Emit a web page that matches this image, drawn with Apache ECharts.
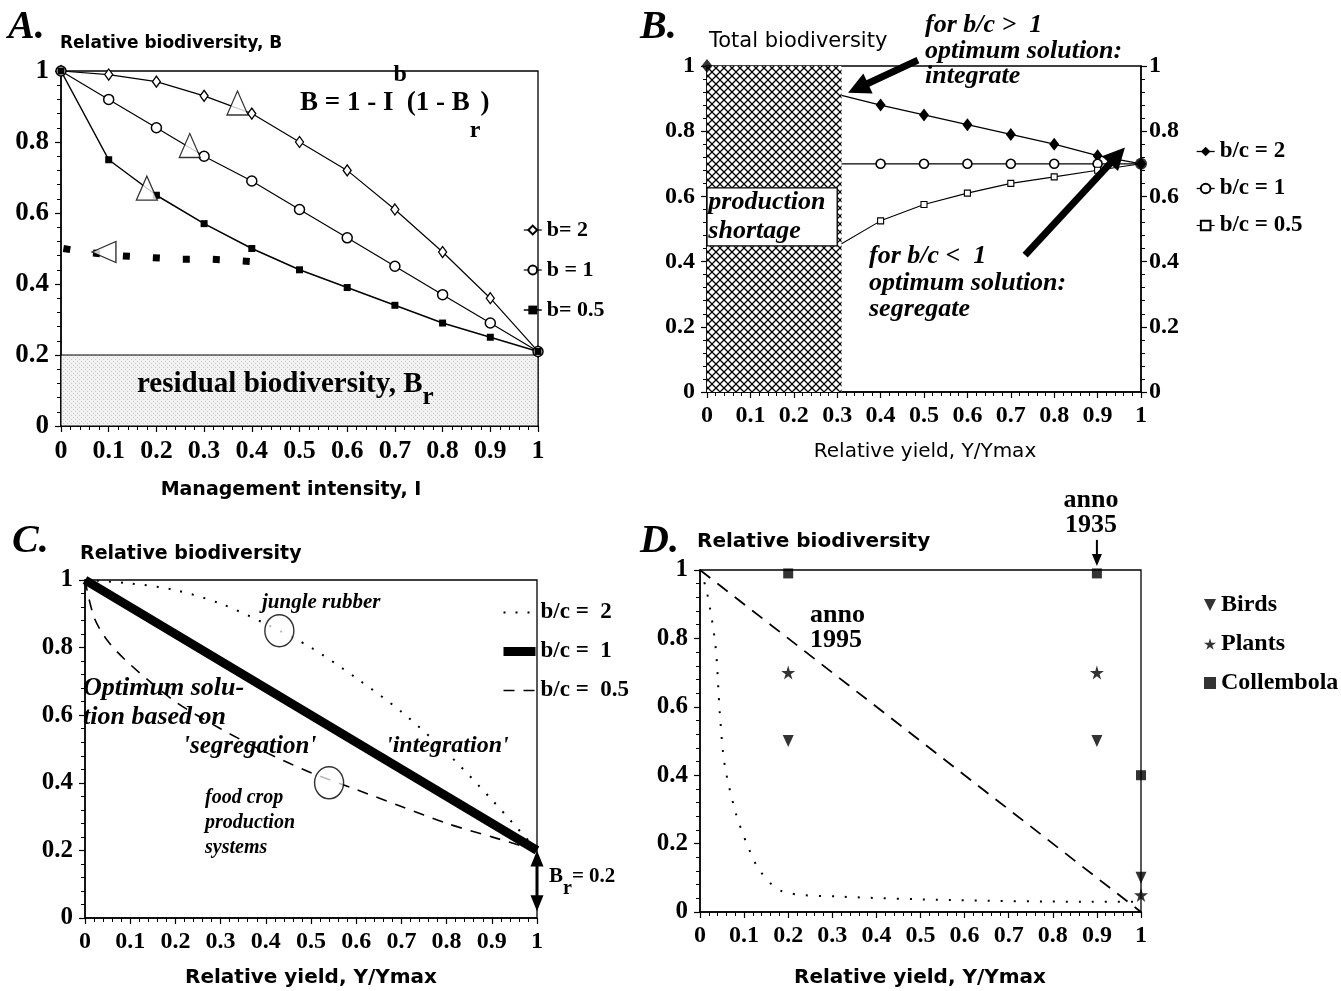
<!DOCTYPE html>
<html><head><meta charset="utf-8">
<script src="https://cdn.jsdelivr.net/npm/echarts@6/dist/echarts.min.js"></script>
<style>html,body{margin:0;padding:0;background:#fff}#c{width:1341px;height:991px}</style>
</head><body><div id="c"></div>
<script>
// ---------- DATA ----------
// Panel A: relative biodiversity vs management intensity
const aX = [0, 0.1, 0.2, 0.3, 0.4, 0.5, 0.6, 0.7, 0.8, 0.9, 1];
const aB2 = [1, 0.99, 0.97, 0.93, 0.88, 0.80, 0.72, 0.61, 0.49, 0.36, 0.21];
const aB1 = [1, 0.92, 0.84, 0.76, 0.69, 0.61, 0.53, 0.45, 0.37, 0.29, 0.21];
const aB05 = [1, 0.75, 0.65, 0.57, 0.50, 0.44, 0.39, 0.34, 0.29, 0.25, 0.21];
const aDotX = [0.005, 0.05, 0.12, 0.18, 0.25, 0.31, 0.38, 0.44];
const aDotY = [0.50, 0.49, 0.48, 0.475, 0.47, 0.47, 0.465, 0.46];
const aTriX = [0.37, 0.27, 0.18, 0.09];
const aTriY = [0.91, 0.79, 0.67, 0.49];
const aTriRot = [0, 0, 0, 90];
const aResidual = 0.2;

// Panel B: total biodiversity vs relative yield
const bX = [0.31, 0.4, 0.5, 0.6, 0.7, 0.8, 0.9, 1];
const bBc2 = [0.91, 0.88, 0.85, 0.82, 0.79, 0.76, 0.725, 0.70];
const bBc1 = [0.70, 0.70, 0.70, 0.70, 0.70, 0.70, 0.70, 0.70];
const bBc05 = [0.455, 0.525, 0.575, 0.61, 0.64, 0.66, 0.68, 0.70];
const bStart = [0, 1];
const bEnd = [1, 0.70];
const bShortageX = 0.31;
const bBoxY = [0.448, 0.626];
const bBoxX = 0.30;

// Panel C: concepts
const cX2 = [0, 0.1, 0.2, 0.3, 0.4, 0.5, 0.6, 0.7, 0.8, 0.9, 1];
const cBc2 = [1, 0.99, 0.97, 0.93, 0.87, 0.80, 0.71, 0.61, 0.49, 0.35, 0.2];
const cX1 = [0, 1];
const cBc1 = [1, 0.2];
const cX05 = [0, 0.02, 0.05, 0.1, 0.2, 0.3, 0.4, 0.5, 0.6, 0.7, 0.8, 0.9, 1];
const cBc05 = [1, 0.89, 0.82, 0.75, 0.64, 0.56, 0.49, 0.43, 0.38, 0.33, 0.28, 0.24, 0.2];
const cCircX = [0.43, 0.54];
const cCircY = [0.85, 0.40];

// Panel D: observations
const dDotX = [0, 0.015, 0.035, 0.045, 0.056, 0.081, 0.106, 0.136, 0.187, 0.32, 0.57, 0.87, 1];
const dDotY = [1, 0.94, 0.78, 0.58, 0.43, 0.29, 0.2, 0.12, 0.06, 0.045, 0.035, 0.03, 0.03];
const dDashX = [0, 1];
const dDashY = [1, 0];
const dX = [0.2, 0.9, 1];
const dBirds = [0.5, 0.5, 0.1];
const dPlants = [0.7, 0.7, 0.05];
const dColl = [0.99, 0.99, 0.4];

const zip = (xs, ys) => xs.map((x, i) => [x, ys[i]]);

// ---------- STYLE HELPERS ----------
const SERIF = '"Liberation Serif", "DejaVu Serif", serif';
const SANS = '"DejaVu Sans", "Liberation Sans", sans-serif';
const fmt = v => String(Math.round(v * 10) / 10);

function hatch() {
  const c = document.createElement('canvas'); c.width = 8; c.height = 8;
  const g = c.getContext('2d');
  g.fillStyle = '#fff'; g.fillRect(0, 0, 8, 8);
  g.strokeStyle = '#000'; g.lineWidth = 1.3;
  g.beginPath(); g.moveTo(-1, -1); g.lineTo(9, 9); g.moveTo(-1, 9); g.lineTo(9, -1); g.stroke();
  return c;
}
function speckle() {
  const c = document.createElement('canvas'); c.width = 4; c.height = 4;
  const g = c.getContext('2d');
  g.fillStyle = '#f2f2f2'; g.fillRect(0, 0, 4, 4);
  g.fillStyle = '#c8c8c8'; g.fillRect(1, 1, 1, 1); g.fillRect(3, 3, 1, 1);
  return c;
}

function xAx(gi, fs) {
  return {
    type: 'value', gridIndex: gi, min: 0, max: 1, interval: 0.1,
    axisLine: { lineStyle: { color: '#000', width: 1.5 } },
    axisTick: { show: true, length: 6, lineStyle: { color: '#000', width: 1.2 } },
    minorTick: { show: true, splitNumber: 5, length: 4, lineStyle: { color: '#000' } },
    axisLabel: { color: '#000', fontFamily: SERIF, fontWeight: 'bold', fontSize: fs, margin: 12, formatter: fmt },
    splitLine: { show: false }
  };
}
function yAx(gi, fs, pos) {
  return {
    type: 'value', gridIndex: gi, min: 0, max: 1, interval: 0.2, position: pos || 'left',
    axisLine: { show: true, lineStyle: { color: '#000', width: 1.5 } },
    axisTick: { show: true, length: 6, lineStyle: { color: '#000', width: 1.2 } },
    minorTick: { show: true, splitNumber: 5, length: 4, lineStyle: { color: '#000' } },
    axisLabel: { color: '#000', fontFamily: SERIF, fontWeight: 'bold', fontSize: fs, margin: pos === 'right' ? 8 : 12, formatter: fmt },
    splitLine: { show: false }
  };
}
const gridBox = { show: true, borderColor: '#000', borderWidth: 1.3, backgroundColor: 'transparent' };
const legText = (s, w) => ({ fontFamily: SERIF, fontWeight: w || 'bold', fontSize: s, color: '#000' });

function txt(x, y, text, font) {
  return { type: 'text', x: x, y: y, z: 100, style: { text: text, font: font, fill: '#000' } };
}
function ctxt(x, y, text, font) {
  return { type: 'text', x: x, y: y, z: 100, style: { text: text, font: font, fill: '#000', align: 'center', textAlign: 'center' } };
}
const BI = (s) => 'italic bold ' + s + 'px ' + SERIF;
const BS = (s) => 'bold ' + s + 'px ' + SANS;
const BSer = (s) => 'bold ' + s + 'px ' + SERIF;
const DOWN_TRI = 'path://M0,0 L10,0 L5,10 Z';
const STAR = 'path://M50,0 L61,35 L98,35 L68,57 L79,91 L50,70 L21,91 L32,57 L2,35 L39,35 Z';

const chart = echarts.init(document.getElementById('c'), null, { renderer: 'canvas' });

const option = {
  animation: false,
  backgroundColor: '#fff',
  grid: [
    Object.assign({ left: 61, top: 71, width: 477, height: 355 }, gridBox),
    Object.assign({ left: 707, top: 66, width: 434, height: 326 }, gridBox),
    Object.assign({ left: 85, top: 580, width: 452, height: 338 }, gridBox),
    Object.assign({ left: 700, top: 570, width: 441, height: 342 }, gridBox)
  ],
  xAxis: [xAx(0, 26), xAx(1, 24), xAx(2, 24), xAx(3, 24)],
  yAxis: [yAx(0, 27), yAx(1, 24), yAx(1, 24, 'right'), yAx(2, 25), yAx(3, 25)],
  legend: [
    { data: ['b= 2', 'b = 1', 'b= 0.5'], orient: 'vertical', left: 523, top: 219, padding: 0, itemGap: 18, itemWidth: 18, itemHeight: 11,
      textStyle: legText(22), selectedMode: false, lineStyle: { width: 'inherit' } },
    { data: ['b/c = 2', 'b/c = 1', 'b/c = 0.5'], orient: 'vertical', left: 1196, top: 140, padding: 0, itemGap: 14, itemWidth: 18, itemHeight: 12,
      textStyle: legText(23), selectedMode: false, lineStyle: { width: 'inherit' } },
    { data: ['C:b/c =  2', 'C:b/c =  1', 'C:b/c =  0.5'], orient: 'vertical', left: 499, top: 601, padding: 0, itemGap: 16, itemWidth: 32, itemHeight: 20,
      textStyle: legText(23), selectedMode: false, lineStyle: { width: 'inherit' }, formatter: n => n.replace('C:', '') },
    { data: ['Birds', 'Plants', 'Collembola'], orient: 'vertical', left: 1204, top: 593, padding: 0, itemGap: 15, itemWidth: 12, itemHeight: 12,
      textStyle: legText(24), selectedMode: false }
  ],
  series: [
    // ---- A ----
    { name: 'b= 2', type: 'line', xAxisIndex: 0, yAxisIndex: 0, data: zip(aX, aB2), symbol: 'diamond', symbolSize: [8, 11],
      lineStyle: { color: '#000', width: 1.2 }, itemStyle: { color: '#fff', borderColor: '#000', borderWidth: 1.3 },
      markArea: { silent: true, itemStyle: { color: { image: speckle(), repeat: 'repeat' }, borderColor: '#000', borderWidth: 1 },
        data: [[{ coord: [0, 0] }, { coord: [1, aResidual] }]] } },
    { name: 'b = 1', type: 'line', xAxisIndex: 0, yAxisIndex: 0, data: zip(aX, aB1), symbol: 'circle', symbolSize: 10,
      lineStyle: { color: '#000', width: 1.2 }, itemStyle: { color: '#fff', borderColor: '#000', borderWidth: 1.5 } },
    { name: 'b= 0.5', type: 'line', xAxisIndex: 0, yAxisIndex: 0, data: zip(aX, aB05), symbol: 'rect', symbolSize: 7,
      lineStyle: { color: '#000', width: 1.5 }, itemStyle: { color: '#000' } },
    { name: 'A dotted', type: 'line', xAxisIndex: 0, yAxisIndex: 0, data: zip(aDotX, aDotY), symbol: 'none',
      lineStyle: { color: '#000', width: 7, type: [7, 23], cap: 'butt' } },
    { name: 'A tri', type: 'scatter', xAxisIndex: 0, yAxisIndex: 0, symbol: 'triangle', symbolSize: [21, 24],
      data: aTriX.map((x, i) => ({ value: [x, aTriY[i]], symbolRotate: aTriRot[i] })),
      itemStyle: { color: '#fff', borderColor: '#000', borderWidth: 1.3 }, z: 5 },
    // ---- B ----
    { name: 'b/c = 2', type: 'line', xAxisIndex: 1, yAxisIndex: 1,
      data: zip(bX, bBc2).map((p, i) => i === 0 ? { value: p, symbol: 'none' } : p),
      symbol: 'diamond', symbolSize: [10, 13], lineStyle: { color: '#000', width: 1.3 }, itemStyle: { color: '#000' },
      markArea: { silent: true, data: [
        [{ coord: [0, 0], itemStyle: { color: { image: hatch(), repeat: 'repeat' }, borderWidth: 0 } }, { coord: [bShortageX, 1] }],
        [{ coord: [0, bBoxY[0]], itemStyle: { color: '#fff', borderColor: '#000', borderWidth: 1.3 },
           label: { show: true, position: 'insideLeft', formatter: 'production\nshortage', fontFamily: SERIF, fontStyle: 'italic', fontWeight: 'bold', fontSize: 26, lineHeight: 29, color: '#000', distance: 2 } },
         { coord: [bBoxX, bBoxY[1]] }]
      ] } },
    { name: 'b/c = 1', type: 'line', xAxisIndex: 1, yAxisIndex: 1,
      data: zip(bX, bBc1).map((p, i) => (i === 0 || i === bX.length - 1) ? { value: p, symbol: 'none' } : p),
      symbol: 'circle', symbolSize: 9, lineStyle: { color: '#000', width: 1.3 }, itemStyle: { color: '#fff', borderColor: '#000', borderWidth: 1.6 } },
    { name: 'b/c = 0.5', type: 'line', xAxisIndex: 1, yAxisIndex: 1,
      data: zip(bX, bBc05).map((p, i) => (i === 0 || i === bX.length - 1) ? { value: p, symbol: 'none' } : p),
      symbol: 'rect', symbolSize: 6, lineStyle: { color: '#000', width: 1.1 }, itemStyle: { color: '#fff', borderColor: '#000', borderWidth: 1.1 } },
    { name: 'B start', type: 'scatter', xAxisIndex: 1, yAxisIndex: 1, data: [bStart], symbol: 'diamond', symbolSize: [11, 14], itemStyle: { color: '#000' }, z: 5 },
    { name: 'B end', type: 'scatter', xAxisIndex: 1, yAxisIndex: 1, data: [bEnd], symbol: 'circle', symbolSize: 12, itemStyle: { color: '#000' }, z: 5 },
    // ---- C ----
    { name: 'C:b/c =  2', type: 'line', xAxisIndex: 2, yAxisIndex: 3, data: zip(cX2, cBc2), symbol: 'none', smooth: 0.3,
      lineStyle: { color: '#000', width: 2, type: [2, 10] }, itemStyle: { color: '#000', opacity: 0 } },
    { name: 'C:b/c =  1', type: 'line', xAxisIndex: 2, yAxisIndex: 3, data: zip(cX1, cBc1), symbol: 'none',
      lineStyle: { color: '#000', width: 9 }, itemStyle: { color: '#000', opacity: 0 } },
    { name: 'C:b/c =  0.5', type: 'line', xAxisIndex: 2, yAxisIndex: 3, data: zip(cX05, cBc05), symbol: 'none', smooth: 0.3,
      lineStyle: { color: '#000', width: 1.6, type: [11, 9] }, itemStyle: { color: '#000', opacity: 0 } },
    { name: 'C circles', type: 'scatter', xAxisIndex: 2, yAxisIndex: 3, data: zip(cCircX, cCircY), symbol: 'circle', symbolSize: [29, 32],
      itemStyle: { color: 'rgba(255,255,255,0.9)', borderColor: '#000', borderWidth: 1.5 }, z: 6 },
    // ---- D ----
    { name: 'D dotted', type: 'line', xAxisIndex: 3, yAxisIndex: 4, data: zip(dDotX, dDotY), symbol: 'none', smooth: 0.3,
      lineStyle: { color: '#000', width: 2, type: [2, 11] } },
    { name: 'D dashed', type: 'line', xAxisIndex: 3, yAxisIndex: 4, data: zip(dDashX, dDashY), symbol: 'none',
      lineStyle: { color: '#000', width: 1.8, type: [13, 9] } },
    { name: 'Birds', type: 'scatter', xAxisIndex: 3, yAxisIndex: 4, data: zip(dX, dBirds), symbol: DOWN_TRI, symbolSize: [11, 12], itemStyle: { color: '#000' }, z: 6 },
    { name: 'Plants', type: 'scatter', xAxisIndex: 3, yAxisIndex: 4, data: zip(dX, dPlants), symbol: STAR, symbolSize: 14, itemStyle: { color: '#000' }, z: 6 },
    { name: 'Collembola', type: 'scatter', xAxisIndex: 3, yAxisIndex: 4, data: zip(dX, dColl), symbol: 'rect', symbolSize: 10, itemStyle: { color: '#000' }, z: 6 }
  ],
  graphic: [
    // A
    txt(8, 8, 'A.', BI(40)),
    txt(60, 35, 'Relative biodiversity, B', BS(17)),
    { type: 'text', x: 300, y: 63, z: 100, style: { text: '{m|B = 1 - I}{s|b}{m|(1 - B}{r|r}{m|)}', fill: '#000',
      rich: { m: { font: BSer(27), lineHeight: 80, fill: '#000' }, s: { font: BSer(24), lineHeight: 16, verticalAlign: 'top', fill: '#000' }, r: { font: BSer(24), lineHeight: 30, verticalAlign: 'bottom', fill: '#000' } } } },
    { type: 'text', x: 137, y: 360, z: 100, style: { text: '{m|residual biodiversity, B}{r|r}', fill: '#000',
      rich: { m: { font: BSer(29), lineHeight: 50, fill: '#000' }, r: { font: BSer(25), lineHeight: 20, verticalAlign: 'bottom', fill: '#000' } } } },
    ctxt(291, 481, 'Management intensity, I', BS(19)),
    // B
    txt(640, 8, 'B.', BI(40)),
    txt(709, 31, 'Total biodiversity', '21px ' + SANS),
    txt(925, 12, 'for b/c >  1', BI(26)),
    txt(925, 38, 'optimum solution:', BI(26)),
    txt(925, 63, 'integrate', BI(26)),
    txt(869, 243, 'for b/c <  1', BI(26)),
    txt(869, 270, 'optimum solution:', BI(26)),
    txt(869, 296, 'segregate', BI(26)),
    ctxt(925, 442, 'Relative yield, Y/Ymax', '20px ' + SANS),
    // C
    txt(12, 522, 'C.', BI(40)),
    txt(80, 545, 'Relative biodiversity', BS(19)),
    txt(262, 592, 'jungle rubber', BI(21)),
    txt(83, 675, 'Optimum solu-', BI(26)),
    txt(83, 704, 'tion based on', BI(26)),
    txt(183, 734, "'segregation'", BI(25)),
    txt(386, 734, "'integration'", BI(24)),
    txt(205, 788, 'food crop', BI(20)),
    txt(205, 813, 'production', BI(20)),
    txt(205, 838, 'systems', BI(20)),
    { type: 'text', x: 549, y: 855, z: 100, style: { text: '{m|B}{r|r}{m|= 0.2}', fill: '#000',
      rich: { m: { font: BSer(21), lineHeight: 44, fill: '#000' }, r: { font: BSer(20), lineHeight: 18, verticalAlign: 'bottom', fill: '#000' } } } },
    ctxt(311, 968, 'Relative yield, Y/Ymax', BS(20)),
    // D
    txt(640, 522, 'D.', BI(40)),
    txt(697, 532, 'Relative biodiversity', BS(20)),
    ctxt(1091, 487, 'anno', BSer(26)),
    ctxt(1091, 512, '1935', BSer(26)),
    txt(810, 602, 'anno', BSer(26)),
    txt(810, 627, '1995', BSer(26)),
    ctxt(920, 968, 'Relative yield, Y/Ymax', BS(20))
  ]
};
chart.setOption(option);

// ---------- annotation arrows (defined in data space, converted to pixels) ----------
const arrows = [
  { grid: 1, from: [0.486, 1.018], to: [0.325, 0.918], w: 7, hl: 22, hw: 22, both: false },
  { grid: 1, from: [0.733, 0.42], to: [0.963, 0.75], w: 7, hl: 22, hw: 22, both: false },
  { grid: 2, from: [1, 0.2], to: [1, 0.02], w: 3, hl: 16, hw: 13, both: true },
  { grid: 3, from: [0.9, 1.088], to: [0.9, 1.012], w: 2, hl: 12, hw: 10, both: false }
];
function head(tip, dx, dy, hl, hw) {
  const bx = tip[0] - dx * hl, by = tip[1] - dy * hl;
  const nx = -dy, ny = dx;
  return { type: 'polygon', z: 100, shape: { points: [tip, [bx + nx * hw / 2, by + ny * hw / 2], [bx - nx * hw / 2, by - ny * hw / 2]] }, style: { fill: '#000' } };
}
const extra = [];
arrows.forEach(a => {
  const p1 = chart.convertToPixel({ gridIndex: a.grid }, a.from);
  const p2 = chart.convertToPixel({ gridIndex: a.grid }, a.to);
  const L = Math.hypot(p2[0] - p1[0], p2[1] - p1[1]);
  const dx = (p2[0] - p1[0]) / L, dy = (p2[1] - p1[1]) / L;
  const s = a.both ? [p1[0] + dx * a.hl * 0.8, p1[1] + dy * a.hl * 0.8] : p1;
  const e = [p2[0] - dx * a.hl * 0.8, p2[1] - dy * a.hl * 0.8];
  extra.push({ type: 'line', z: 100, shape: { x1: s[0], y1: s[1], x2: e[0], y2: e[1] }, style: { stroke: '#000', lineWidth: a.w } });
  extra.push(head(p2, dx, dy, a.hl, a.hw));
  if (a.both) extra.push(head(p1, -dx, -dy, a.hl, a.hw));
});
chart.setOption({ graphic: option.graphic.concat(extra) });
</script></body></html>
